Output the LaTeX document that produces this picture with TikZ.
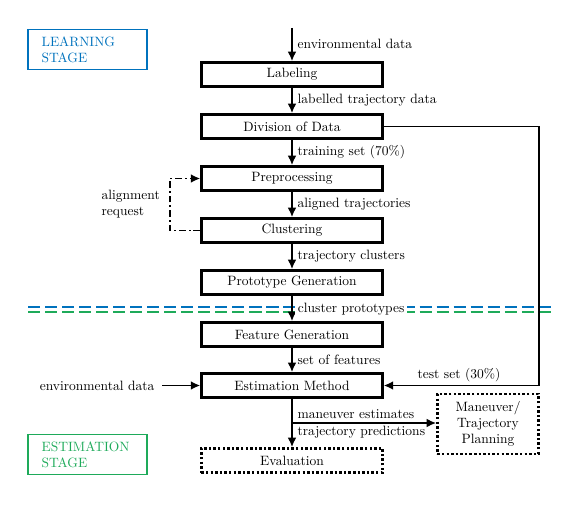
\documentclass[tikz,border=0pt]{standalone}
\usetikzlibrary{arrows.meta,positioning}
\definecolor{stageblue}{RGB}{0,114,189}
\definecolor{stagegreen}{RGB}{30,170,90}
\begin{document}
\begin{tikzpicture}[x=0.74pt,y=-0.74pt,
  procbox/.style={draw,line width=1.8pt,minimum width=134pt,minimum height=18pt,inner sep=0pt,font=\normalsize},
  dotbox/.style={procbox,dash pattern=on 1.8pt off 1.6pt},
  flow/.style={line width=1.2pt,-{Latex[length=7pt,width=6.5pt]}},
  lbl/.style={anchor=west,inner sep=1pt},
  stagebox/.style={draw,line width=0.9pt,minimum width=88pt,minimum height=30pt,align=left,text width=68pt,inner sep=0pt},
  stageline/.style={line width=1.1pt,dash pattern=on 9pt off 3.6pt}
]
\useasboundingbox (0,0) rectangle (581,506);
% stage boxes
\node[stagebox,draw=stageblue,text=stageblue] (learn) at (87.5,49.5) {LEARNING\\STAGE};
\node[stagebox,draw=stagegreen,text=stagegreen] (estim) at (87.5,454.5) {ESTIMATION\\STAGE};
% stage lines
\coordinate (bl) at (28,307); \coordinate (br) at (552,307);
\coordinate (gl) at (28,312); \coordinate (gr) at (552,312);
\draw[stageline,stageblue] (bl) -- (br);
\draw[stageline,stagegreen] (gl) -- (gr);
% process boxes
\node[procbox] (lab) at (292,74.5) {Labeling};
\node[procbox] (div) at (292,126.5) {Division of Data};
\node[procbox] (pre) at (292,178.5) {Preprocessing};
\node[procbox] (clu) at (292,230.5) {Clustering};
\node[procbox] (pro) at (292,282.5) {Prototype Generation};
\node[procbox] (fea) at (292,334.5) {Feature Generation};
\node[procbox] (est) at (292,385.5) {Estimation Method};
\node[dotbox] (eva) at (292,460.5) {Evaluation};
\node[dotbox,minimum width=75pt,minimum height=44pt,align=center] (man) at (488,424) {Maneuver/\\Trajectory\\Planning};
% connectors
\coordinate (top) at (292,28);
\draw[flow] (top) -- (lab.north);
\draw[flow] (lab) -- (div);
\draw[flow] (div) -- (pre);
\draw[flow] (pre) -- (clu);
\draw[flow] (clu) -- (pro);
\draw[flow] (pro) -- (fea);
\draw[flow] (fea) -- (est);
\draw[flow] (est) -- (eva);
\coordinate (br1) at (292,423);
\draw[flow] (br1) -- (man.west |- br1);
\coordinate (rc) at (539,126.5);
\coordinate (rd) at (539,385.5);
\draw[flow] (div.east) -- (rc) -- (rd) -- (est.east);
\coordinate (envl) at (162,385.5);
\draw[flow] (envl) -- (est.west);
\coordinate (al1) at (170,230.5);
\coordinate (al2) at (170,178.5);
\draw[line width=1.2pt,dash pattern=on 5pt off 2.2pt on 1.4pt off 2.2pt,-{Latex[length=7pt,width=6.5pt]}] (clu.west) -- (al1) -- (al2) -- (pre.west);
% labels
\node[lbl] (l1) at (296,44) {environmental data};
\node[lbl] (l2) at (296,100.5) {labelled trajectory data};
\node[lbl] (l3) at (296,152.5) {training set (70\%)};
\node[lbl] (l4) at (296,204.5) {aligned trajectories};
\node[lbl] (l5) at (296,256.5) {trajectory clusters};
\node[lbl,fill=white,inner xsep=2pt] (l6) at (295,309.5) {cluster prototypes};
\node[lbl] (l7) at (296,360) {set of features};
\node[lbl] (l8) at (296,414.5) {maneuver estimates};
\node[lbl] (l9) at (296,432) {trajectory predictions};
\node[anchor=center,inner sep=1pt] (l10) at (459,375) {test set (30\%)};
\node[anchor=east,inner sep=1pt] (l11) at (156,385.5) {environmental data};
\node[align=left,anchor=west,inner sep=1pt] (l12) at (100,204.5) {alignment\\request};
\end{tikzpicture}
\end{document}
